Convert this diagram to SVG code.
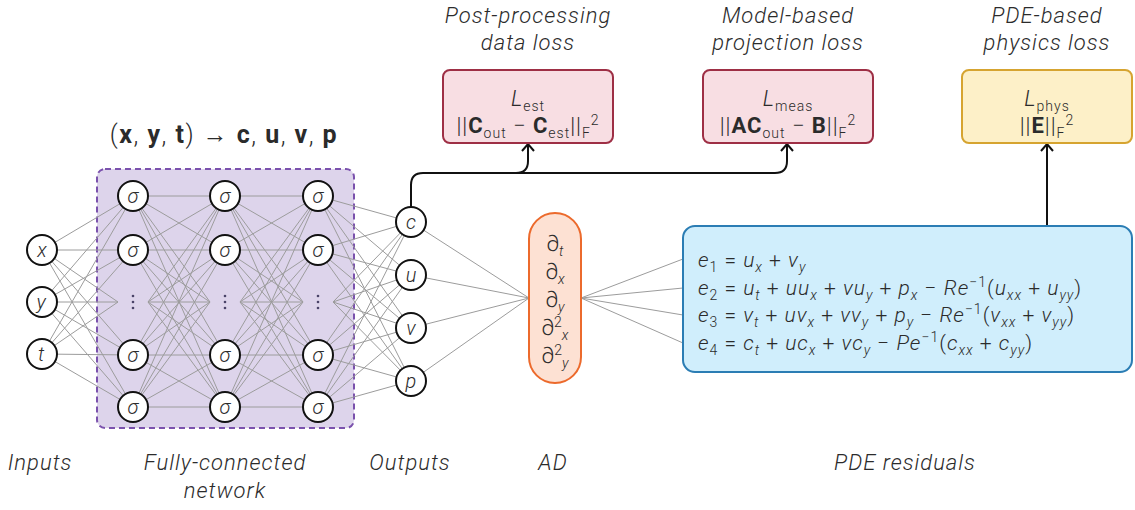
<svg xmlns="http://www.w3.org/2000/svg" width="1135" height="510" viewBox="0 0 1135 510">
  <style>
    text { font-family: Roboto, "Liberation Sans", Arial, sans-serif; font-weight: 300; fill: #2b2b2b; }
    .cap { font-size: 22px; font-style: italic; text-anchor: middle; letter-spacing: 1px; }
    .lbl { font-size: 20px; font-style: italic; text-anchor: middle; }
    .i { font-style: italic; }
    .b { font-weight: 700; }
    .sb { font-size: 14px; baseline-shift: -5px; }
    .sp { font-size: 14px; baseline-shift: 8px; }
    .eq { font-size: 21px; letter-spacing: 1px; }
    .loss { font-size: 22px; text-anchor: middle; letter-spacing: 1px; }
    .title { font-size: 25px; text-anchor: middle; letter-spacing: 1.5px; }
    .wire { stroke: #9c9c9c; stroke-width: 1; fill: none; }
    .neuron { fill: #ffffff; stroke: #111111; stroke-width: 2; }
    .flow { stroke: #111111; stroke-width: 2; fill: none; }
    .dot { fill: #4a4368; }
  </style>
  <defs>
    <marker id="chev" viewBox="-8 -7 10 14" refX="0" refY="0" markerWidth="10" markerHeight="14" markerUnits="userSpaceOnUse" orient="auto">
      <path d="M-7 -6 L0 0 L-7 6" fill="none" stroke="#111111" stroke-width="2"/>
    </marker>
  </defs>

  <!-- hidden-layer panel -->
  <g id="network-panel">
    <rect x="97" y="169" width="257" height="259" rx="8" fill="#ddd4eb" stroke="#7b52ad" stroke-width="2" stroke-dasharray="6 4"/>
    <text class="title" x="224" y="143">(<tspan class="b">x</tspan>, <tspan class="b">y</tspan>, <tspan class="b">t</tspan>) → <tspan class="b">c</tspan>, <tspan class="b">u</tspan>, <tspan class="b">v</tspan>, <tspan class="b">p</tspan></text>
  </g>

  <!-- connectors -->
  <g id="connectors">
    <path class="wire" d="M42 250L133 196M42 250L133 250M42 250L118 302M42 250L133 355M42 250L133 407
      M42 302L133 196M42 302L133 250M42 302L118 302M42 302L133 355M42 302L133 407
      M42 354L133 196M42 354L133 250M42 354L118 302M42 354L133 355M42 354L133 407"/>
    <path class="wire" d="M133 196L225 196M133 196L225 250M133 196L210 302M133 196L225 355M133 196L225 407
      M133 250L225 196M133 250L225 250M133 250L210 302M133 250L225 355M133 250L225 407
      M148 302L225 196M148 302L225 250M148 302L210 302M148 302L225 355M148 302L225 407
      M133 355L225 196M133 355L225 250M133 355L210 302M133 355L225 355M133 355L225 407
      M133 407L225 196M133 407L225 250M133 407L210 302M133 407L225 355M133 407L225 407"/>
    <path class="wire" d="M225 196L318 196M225 196L318 250M225 196L303 302M225 196L318 355M225 196L318 407
      M225 250L318 196M225 250L318 250M225 250L303 302M225 250L318 355M225 250L318 407
      M240 302L318 196M240 302L318 250M240 302L303 302M240 302L318 355M240 302L318 407
      M225 355L318 196M225 355L318 250M225 355L303 302M225 355L318 355M225 355L318 407
      M225 407L318 196M225 407L318 250M225 407L303 302M225 407L318 355M225 407L318 407"/>
    <path class="wire" d="M318 196L411 222M318 196L411 275M318 196L411 328M318 196L411 381
      M318 250L411 222M318 250L411 275M318 250L411 328M318 250L411 381
      M333 302L411 222M333 302L411 275M333 302L411 328M333 302L411 381
      M318 355L411 222M318 355L411 275M318 355L411 328M318 355L411 381
      M318 407L411 222M318 407L411 275M318 407L411 328M318 407L411 381"/>
    <path class="wire" d="M411 222L529 298M411 275L529 298M411 328L529 298M411 381L529 298"/>
    <path class="wire" d="M581 298L683 259M581 298L683 288M581 298L683 315M581 298L683 343"/>
    <path class="flow" d="M411 207V185Q411 173 423 173H775Q787 173 787 161V144" marker-end="url(#chev)"/>
    <path class="flow" d="M516 173Q528 173 528 161V144" marker-end="url(#chev)"/>
    <path class="flow" d="M1047 226V144" marker-end="url(#chev)"/>
  </g>

  <!-- input layer -->
  <g id="inputs">
    <circle class="neuron" cx="42" cy="250" r="15"/>
    <text class="lbl" x="42" y="257">x</text>
    <circle class="neuron" cx="42" cy="302" r="15"/>
    <text class="lbl" x="41" y="309">y</text>
    <circle class="neuron" cx="42" cy="354" r="15"/>
    <text class="lbl" x="41" y="361">t</text>
  </g>

  <!-- hidden layers -->
  <g id="hidden-1">
    <circle class="neuron" cx="133" cy="196" r="15"/><text class="lbl" x="133" y="203">σ</text>
    <circle class="neuron" cx="133" cy="250" r="15"/><text class="lbl" x="133" y="257">σ</text>
    <circle class="dot" cx="133" cy="296" r="1.3"/><circle class="dot" cx="133" cy="302" r="1.3"/><circle class="dot" cx="133" cy="308" r="1.3"/>
    <circle class="neuron" cx="133" cy="355" r="15"/><text class="lbl" x="133" y="362">σ</text>
    <circle class="neuron" cx="133" cy="407" r="15"/><text class="lbl" x="133" y="414">σ</text>
  </g>
  <g id="hidden-2">
    <circle class="neuron" cx="225" cy="196" r="15"/><text class="lbl" x="225" y="203">σ</text>
    <circle class="neuron" cx="225" cy="250" r="15"/><text class="lbl" x="225" y="257">σ</text>
    <circle class="dot" cx="225" cy="296" r="1.3"/><circle class="dot" cx="225" cy="302" r="1.3"/><circle class="dot" cx="225" cy="308" r="1.3"/>
    <circle class="neuron" cx="225" cy="355" r="15"/><text class="lbl" x="225" y="362">σ</text>
    <circle class="neuron" cx="225" cy="407" r="15"/><text class="lbl" x="225" y="414">σ</text>
  </g>
  <g id="hidden-3">
    <circle class="neuron" cx="318" cy="196" r="15"/><text class="lbl" x="318" y="203">σ</text>
    <circle class="neuron" cx="318" cy="250" r="15"/><text class="lbl" x="318" y="257">σ</text>
    <circle class="dot" cx="318" cy="296" r="1.3"/><circle class="dot" cx="318" cy="302" r="1.3"/><circle class="dot" cx="318" cy="308" r="1.3"/>
    <circle class="neuron" cx="318" cy="355" r="15"/><text class="lbl" x="318" y="362">σ</text>
    <circle class="neuron" cx="318" cy="407" r="15"/><text class="lbl" x="318" y="414">σ</text>
  </g>

  <!-- output layer -->
  <g id="outputs">
    <circle class="neuron" cx="411" cy="222" r="15"/><text class="lbl" x="411" y="229">c</text>
    <circle class="neuron" cx="411" cy="275" r="15"/><text class="lbl" x="411" y="282">u</text>
    <circle class="neuron" cx="411" cy="328" r="15"/><text class="lbl" x="411" y="335">v</text>
    <circle class="neuron" cx="411" cy="381" r="15"/><text class="lbl" x="411" y="388">p</text>
  </g>

  <!-- automatic differentiation -->
  <g id="ad">
    <rect x="529" y="213" width="52" height="170" rx="26" fill="#fde1d3" stroke="#ec6a2c" stroke-width="2"/>
    <text x="555" y="251" style="font-size:22px" text-anchor="middle">∂<tspan class="sb i">t</tspan></text>
    <text x="555" y="279" style="font-size:22px" text-anchor="middle">∂<tspan class="sb i">x</tspan></text>
    <text x="555" y="307" style="font-size:22px" text-anchor="middle">∂<tspan class="sb i">y</tspan></text>
    <text x="555" y="335" style="font-size:22px" text-anchor="middle">∂<tspan class="sp">2</tspan><tspan class="sb i">x</tspan></text>
    <text x="555" y="363" style="font-size:22px" text-anchor="middle">∂<tspan class="sp">2</tspan><tspan class="sb i">y</tspan></text>
  </g>

  <!-- PDE residuals -->
  <g id="residuals">
    <rect x="683" y="226" width="449" height="146" rx="12" fill="#d0eefc" stroke="#2b7db4" stroke-width="2"/>
    <text class="eq" x="698" y="267"><tspan class="i">e</tspan><tspan class="sb">1</tspan> = <tspan class="i">u</tspan><tspan class="sb i">x</tspan> + <tspan class="i">v</tspan><tspan class="sb i">y</tspan></text>
    <text class="eq" x="698" y="295"><tspan class="i">e</tspan><tspan class="sb">2</tspan> = <tspan class="i">u</tspan><tspan class="sb i">t</tspan> + <tspan class="i">uu</tspan><tspan class="sb i">x</tspan> + <tspan class="i">vu</tspan><tspan class="sb i">y</tspan> + <tspan class="i">p</tspan><tspan class="sb i">x</tspan> − <tspan class="i">Re</tspan><tspan class="sp">−1</tspan>(<tspan class="i">u</tspan><tspan class="sb i">xx</tspan> + <tspan class="i">u</tspan><tspan class="sb i">yy</tspan>)</text>
    <text class="eq" x="698" y="322"><tspan class="i">e</tspan><tspan class="sb">3</tspan> = <tspan class="i">v</tspan><tspan class="sb i">t</tspan> + <tspan class="i">uv</tspan><tspan class="sb i">x</tspan> + <tspan class="i">vv</tspan><tspan class="sb i">y</tspan> + <tspan class="i">p</tspan><tspan class="sb i">y</tspan> − <tspan class="i">Re</tspan><tspan class="sp">−1</tspan>(<tspan class="i">v</tspan><tspan class="sb i">xx</tspan> + <tspan class="i">v</tspan><tspan class="sb i">yy</tspan>)</text>
    <text class="eq" x="698" y="350"><tspan class="i">e</tspan><tspan class="sb">4</tspan> = <tspan class="i">c</tspan><tspan class="sb i">t</tspan> + <tspan class="i">uc</tspan><tspan class="sb i">x</tspan> + <tspan class="i">vc</tspan><tspan class="sb i">y</tspan> − <tspan class="i">Pe</tspan><tspan class="sp">−1</tspan>(<tspan class="i">c</tspan><tspan class="sb i">xx</tspan> + <tspan class="i">c</tspan><tspan class="sb i">yy</tspan>)</text>
  </g>

  <!-- loss terms -->
  <g id="loss-est">
    <text class="cap" x="528" y="23">Post-processing</text>
    <text class="cap" x="528" y="50">data loss</text>
    <rect x="443" y="70" width="170" height="73" rx="7" fill="#f8dee3" stroke="#9e2f45" stroke-width="2"/>
    <text class="loss" x="528" y="106"><tspan class="i">L</tspan><tspan class="sb">est</tspan></text>
    <text class="loss" x="528" y="133">||<tspan class="b">C</tspan><tspan class="sb">out</tspan> − <tspan class="b">C</tspan><tspan class="sb">est</tspan>||<tspan class="sb">F</tspan><tspan class="sp">2</tspan></text>
  </g>
  <g id="loss-meas">
    <text class="cap" x="788" y="23">Model-based</text>
    <text class="cap" x="788" y="50">projection loss</text>
    <rect x="703" y="70" width="170" height="73" rx="7" fill="#f8dee3" stroke="#9e2f45" stroke-width="2"/>
    <text class="loss" x="788" y="106"><tspan class="i">L</tspan><tspan class="sb">meas</tspan></text>
    <text class="loss" x="788" y="133">||<tspan class="b">AC</tspan><tspan class="sb">out</tspan> − <tspan class="b">B</tspan>||<tspan class="sb">F</tspan><tspan class="sp">2</tspan></text>
  </g>
  <g id="loss-phys">
    <text class="cap" x="1047" y="23">PDE-based</text>
    <text class="cap" x="1047" y="50">physics loss</text>
    <rect x="962" y="70" width="170" height="73" rx="7" fill="#fdf0c8" stroke="#d6a430" stroke-width="2"/>
    <text class="loss" x="1047" y="106"><tspan class="i">L</tspan><tspan class="sb">phys</tspan></text>
    <text class="loss" x="1047" y="133">||<tspan class="b">E</tspan>||<tspan class="sb">F</tspan><tspan class="sp">2</tspan></text>
  </g>

  <!-- stage captions -->
  <g id="captions">
    <text class="cap" x="40" y="470">Inputs</text>
    <text class="cap" x="225" y="470">Fully-connected</text>
    <text class="cap" x="225" y="498">network</text>
    <text class="cap" x="410" y="470">Outputs</text>
    <text class="cap" x="553" y="470">AD</text>
    <text class="cap" x="905" y="470">PDE residuals</text>
  </g>
</svg>
